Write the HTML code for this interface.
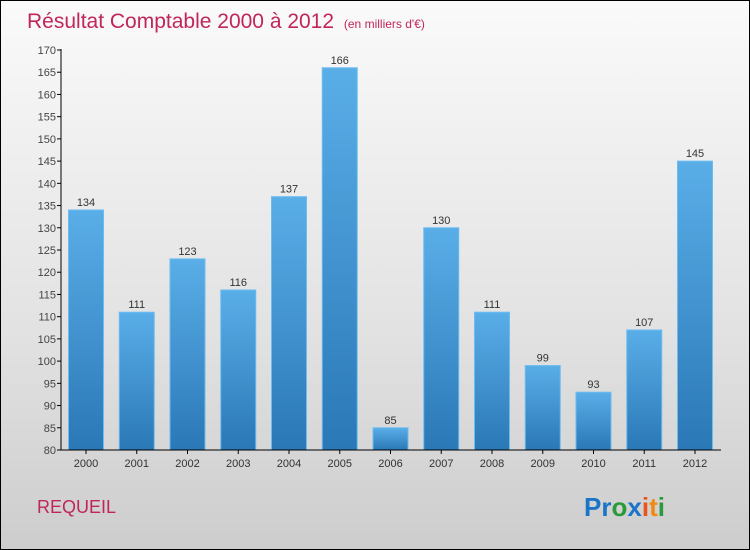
<!DOCTYPE html>
<html><head><meta charset="utf-8"><style>
body{margin:0}
#c{width:748px;height:548px;border:1px solid #000;background:linear-gradient(#fafafa,#e2e2e2 60%,#cdcdcd);position:relative;font-family:"Liberation Sans",sans-serif;overflow:hidden}
</style></head><body>
<div id="c">
<svg width="748" height="548" id="svg">
<defs><linearGradient id="bg" x1="0" y1="0" x2="0" y2="1"><stop offset="0" stop-color="#5aaee8"/><stop offset="1" stop-color="#2a78b6"/></linearGradient></defs>
<text x="26" y="27" font-size="21" fill="#c0265a">Résultat Comptable 2000 à 2012 <tspan font-size="12" dx="4">(en milliers d'€)</tspan></text>
<text x="36" y="512" font-size="18" fill="#c0265a">REQUEIL</text>
<text x="583" y="515" font-size="26" font-weight="bold"><tspan fill="#1a75c9">Pr</tspan><tspan fill="#2a9a3a">o</tspan><tspan fill="#1a75c9">x</tspan><tspan fill="#e8541a">i</tspan><tspan fill="#f08a10">t</tspan><tspan fill="#2a9a3a">i</tspan></text>
<g id="g"></g>
</svg></div>
<script>
const categories=["2000","2001","2002","2003","2004","2005","2006","2007","2008","2009","2010","2011","2012"];
const values=[134,111,123,116,137,166,85,130,111,99,93,107,145];
const ticks=[80,85,90,95,100,105,110,115,120,125,130,135,140,145,150,155,160,165,170];
const ns="http://www.w3.org/2000/svg",g=document.getElementById("g");
const y=v=>449-(v-80)*400/90, x=i=>85+i*50.75;
function mk(t,a){const e=document.createElementNS(ns,t);for(const k in a)e.setAttribute(k,a[k]);g.appendChild(e);return e;}
ticks.forEach(t=>{
const l=mk("line",{x1:56,x2:60,y1:y(t),y2:y(t),stroke:"#000"});


const tx=mk("text",{x:55,y:y(t)+4,"font-size":11,fill:"#444","text-anchor":"end"});tx.textContent=t;


});
categories.forEach((c,i)=>{
const b=mk("rect",{x:x(i)-17.5,y:y(values[i]),width:35,height:449-y(values[i]),fill:"url(#bg)",stroke:"#6cbcf0","stroke-width":1});


const v=mk("text",{x:x(i),y:y(values[i])-4,"font-size":11,fill:"#333","text-anchor":"middle"});v.textContent=values[i];


const tl=mk("line",{x1:x(i),x2:x(i),y1:449,y2:453,stroke:"#000"});


const t=mk("text",{x:x(i),y:466,"font-size":11,fill:"#333","text-anchor":"middle"});t.textContent=c;


});
const ya=mk("line",{x1:60,x2:60,y1:48,y2:449,stroke:"#000"});


const xa=mk("line",{x1:60,x2:720,y1:449,y2:449,stroke:"#000"});


</script>
</body></html>
